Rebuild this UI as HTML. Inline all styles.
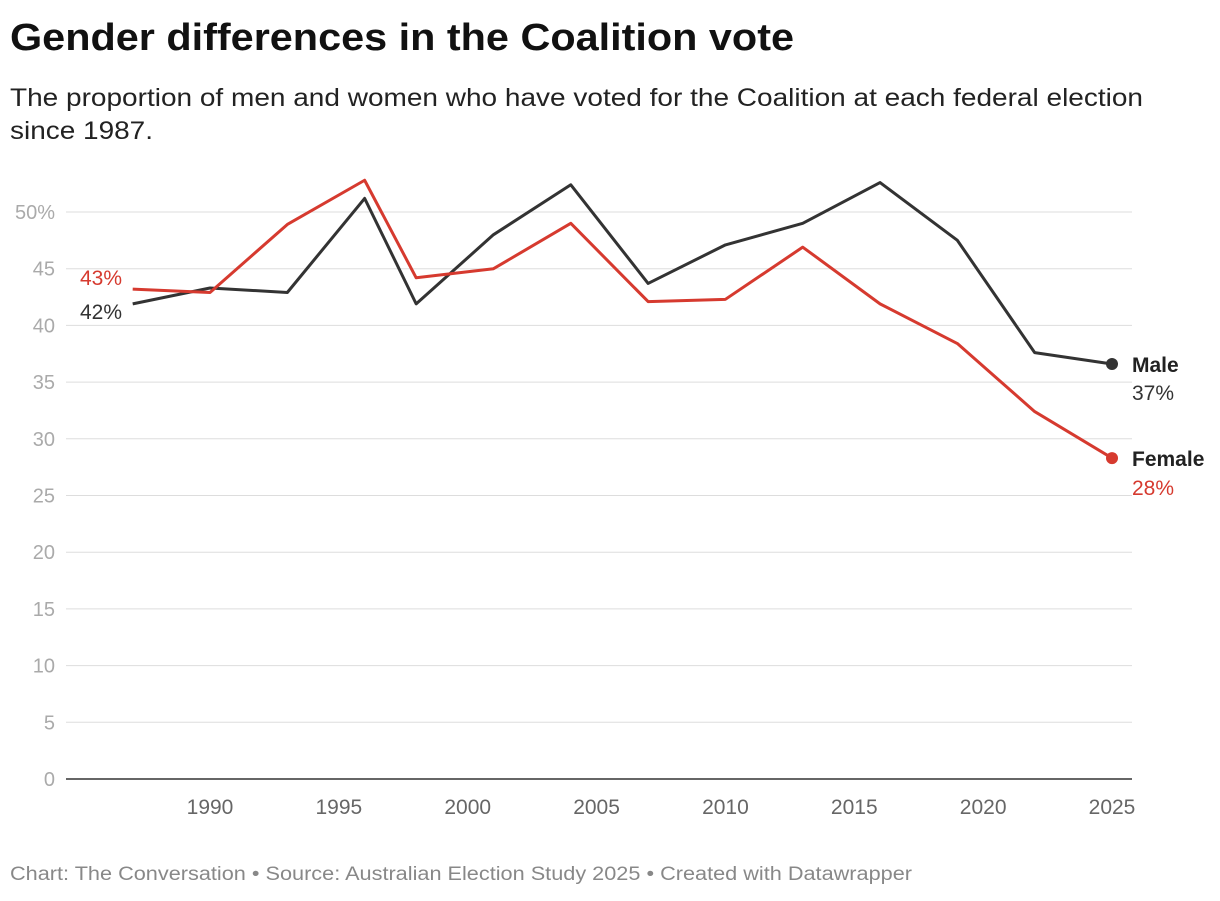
<!DOCTYPE html>
<html><head><meta charset="utf-8"><style>
body{margin:0;background:#fff;width:1220px;height:896px;overflow:hidden;font-family:"Liberation Sans",Arial,sans-serif}
</style></head><body>
<svg width="1220" height="896" xmlns="http://www.w3.org/2000/svg" font-family="Liberation Sans, Arial, sans-serif">
<text x="10" y="50" font-size="38" font-weight="bold" fill="#111" textLength="784" lengthAdjust="spacingAndGlyphs">Gender differences in the Coalition vote</text>
<text x="10" y="106" font-size="25" fill="#222" textLength="1133" lengthAdjust="spacingAndGlyphs">The proportion of men and women who have voted for the Coalition at each federal election</text>
<text x="10" y="139" font-size="25" fill="#222" textLength="143" lengthAdjust="spacingAndGlyphs">since 1987.</text>
<g id="grid"></g><g id="lines"></g><g id="labels"></g>
<text x="10" y="880" font-size="19" fill="#888" textLength="902" lengthAdjust="spacingAndGlyphs">Chart: The Conversation • Source: Australian Election Study 2025 • Created with Datawrapper</text>
</svg>
<script>
const years=[1987,1990,1993,1996,1998,2001,2004,2007,2010,2013,2016,2019,2022,2025];
const male=[41.9,43.3,42.9,51.2,41.9,48.0,52.4,43.7,47.1,49.0,52.6,47.5,37.6,36.6];
const female=[43.2,42.9,48.9,52.8,44.2,45.0,49.0,42.1,42.3,46.9,41.9,38.4,32.4,28.3];
const yTicks=[0,5,10,15,20,25,30,35,40,45,50];
const xTicks=[1990,1995,2000,2005,2010,2015,2020,2025];
const NS="http://www.w3.org/2000/svg";
const x=v=>210+(v-1990)*(902/35);
const y=v=>779-v*11.34;
function mk(tag,attrs,parent,txt){const e=document.createElementNS(NS,tag);for(const k in attrs)e.setAttribute(k,attrs[k]);if(txt!==undefined)e.textContent=txt;document.getElementById(parent).appendChild(e);return e;}
yTicks.forEach(t=>{
 const l=mk('line',{x1:66,x2:1132,y1:y(t),y2:y(t),stroke:t===0?'#333':'#ddd','stroke-width':t===0?1.5:1},'grid');
 
 
 const tx=mk('text',{x:55,y:y(t)+7,'font-size':20,fill:'#aaa','text-anchor':'end'},'grid',t===50?'50%':String(t));
 
 
});
xTicks.forEach(t=>{
 const tx=mk('text',{x:x(t),y:814,'font-size':21,fill:'#666','text-anchor':'middle'},'grid',String(t));
 
 
});
function series(vals,color,name){
 const p=mk('polyline',{points:vals.map((v,i)=>x(years[i])+','+y(v)).join(' '),fill:'none',stroke:color,'stroke-width':3,'stroke-linejoin':'round'},'lines');
 
 
 const n=vals.length-1;
 const c=mk('circle',{cx:x(years[n]),cy:y(vals[n]),r:6,fill:color},'lines');
 
 
}
series(male,'#333','male');
series(female,'#d63a2f','female');
function lab(tx,xx,yy,col,bold,anchor,name){
 const e=mk('text',{x:xx,y:yy,'font-size':21,fill:col,'font-weight':bold?'bold':'normal','text-anchor':anchor},'labels',tx);
 
 
}
lab(Math.round(female[0])+'%',122,y(female[0])-4,'#d63a2f',false,'end','female-start-label');
lab(Math.round(male[0])+'%',122,y(male[0])+15,'#333',false,'end','male-start-label');
const n=years.length-1;
lab('Male',1132,y(male[n])+8,'#222',true,'start','male-legend-label');
lab(Math.round(male[n])+'%',1132,y(male[n])+36,'#333',false,'start','male-end-value');
lab('Female',1132,y(female[n])+8,'#222',true,'start','female-legend-label');
lab(Math.round(female[n])+'%',1132,y(female[n])+37,'#d63a2f',false,'start','female-end-value');
</script>
</body></html>
